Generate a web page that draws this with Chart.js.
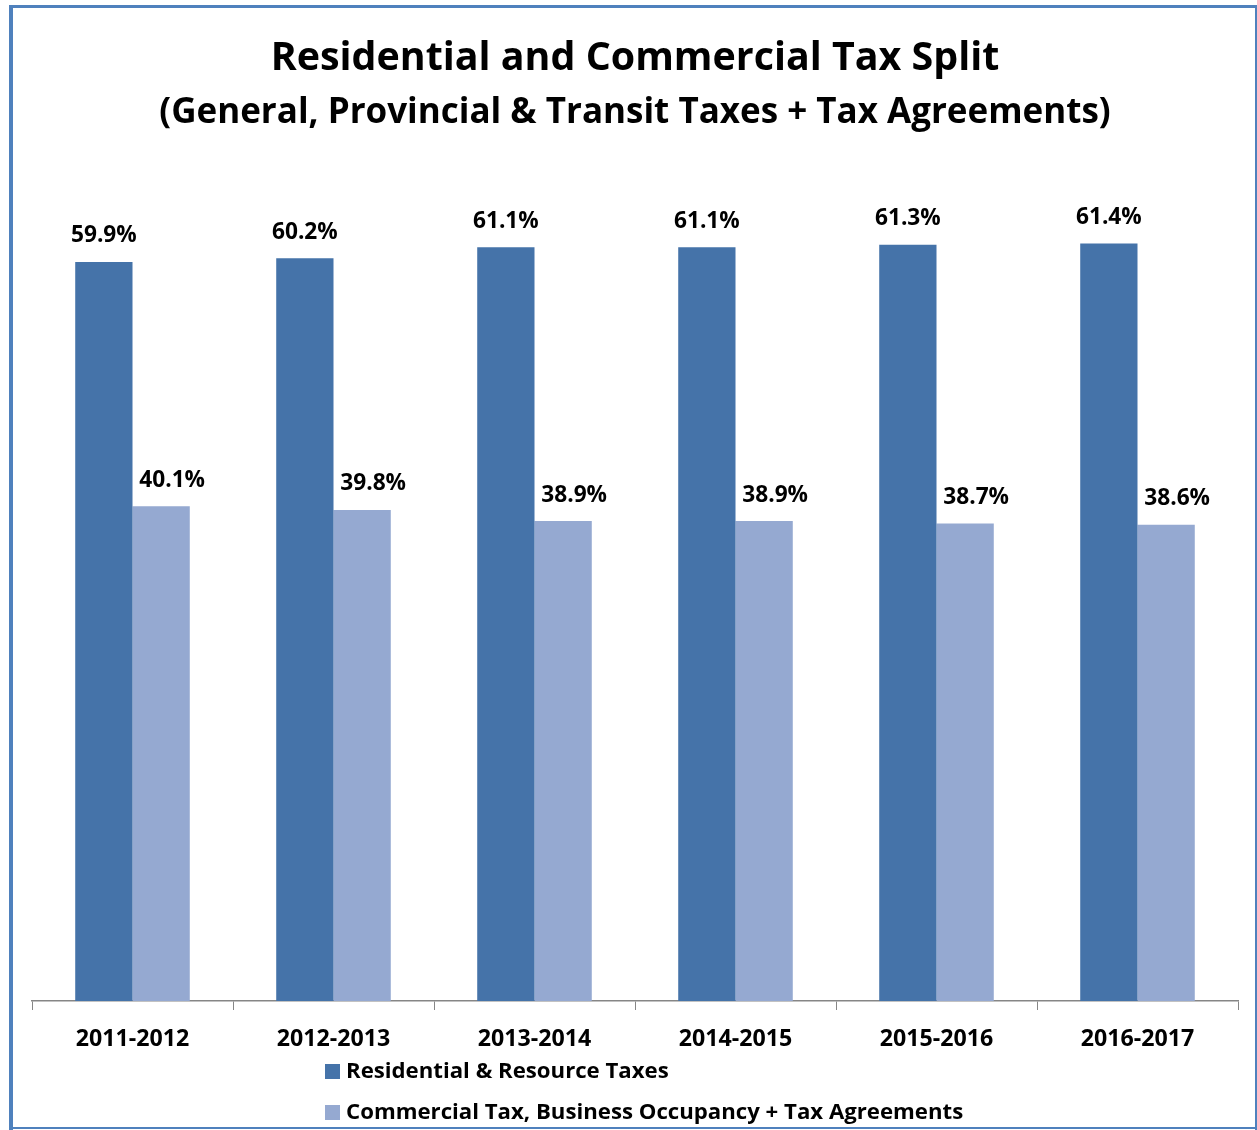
<!DOCTYPE html>
<html lang="en">
<head>
    <meta charset="UTF-8">
    <title>Residential and Commercial Tax Split</title>
    <script src="https://cdn.jsdelivr.net/npm/chart.js@4.4.0/dist/chart.umd.min.js"></script>
    <style>
        body {
            margin: 0;
            padding: 0;
            background: #ffffff;
        }
        .chart-box {
            position: relative;
            width: 1257px;
            height: 1130px;
        }
    </style>
</head>
<body>

    <div class="chart-box">
        <canvas id="taxChart"></canvas>
    </div>

    <script>
        // Tax split by fiscal year (percent of total levy)
        const years = ['2011-2012', '2012-2013', '2013-2014', '2014-2015', '2015-2016', '2016-2017'];
        const residential = [59.9, 60.2, 61.1, 61.1, 61.3, 61.4];
        const commercial = [40.1, 39.8, 38.9, 38.9, 38.7, 38.6];
        const seriesNames = ['Residential & Resource Taxes', 'Commercial Tax, Business Occupancy + Tax Agreements'];

        const darkBlue = '#4573A9';
        const lightBlue = '#95A9D1';
        const frameBlue = '#4F81BD';
        const fontFamily = "'Open Sans', sans-serif";

        // Blue frame around the whole chart
        const framePlugin = {
            id: 'frame',
            beforeDraw(chart) {
                const ctx = chart.ctx;
                ctx.save();
                ctx.fillStyle = frameBlue;
                ctx.fillRect(9, 5, 1248, 3);     // top
                ctx.fillRect(9, 5, 4, 1125);     // left
                ctx.fillRect(1255, 5, 2, 1125);  // right
                ctx.fillRect(9, 1127, 1248, 2);  // bottom
                ctx.restore();
            }
        };

        // Percentage above each bar
        const valueLabels = {
            id: 'valueLabels',
            afterDatasetsDraw(chart) {
                const ctx = chart.ctx;
                ctx.save();
                ctx.font = 'bold 22.7px ' + fontFamily;
                ctx.fillStyle = '#000000';
                ctx.textAlign = 'center';
                ctx.textBaseline = 'middle';
                chart.data.datasets.forEach((ds, i) => {
                    const meta = chart.getDatasetMeta(i);
                    meta.data.forEach((bar, j) => {
                        ctx.fillText(ds.data[j].toFixed(1) + '%', bar.x + ds.labelShift, bar.y - 26);
                    });
                });
                ctx.restore();
            }
        };

        // Stacked legend under the axis
        const stackedLegend = {
            id: 'stackedLegend',
            afterDraw(chart) {
                const ctx = chart.ctx;
                ctx.save();
                ctx.font = 'bold 22.2px ' + fontFamily;
                ctx.textBaseline = 'middle';
                chart.data.datasets.forEach((ds, i) => {
                    const y = 1072 + i * 41;
                    ctx.fillStyle = ds.backgroundColor;
                    ctx.fillRect(325, y - 8, 15, 15);
                    ctx.fillStyle = '#000000';
                    ctx.fillText(ds.label, 346, y);
                });
                ctx.restore();
            }
        };

        const ctx = document.getElementById('taxChart').getContext('2d');

        const taxChart = new Chart(ctx, {
            type: 'bar',
            data: {
                labels: years,
                datasets: [
                    { label: seriesNames[0], data: residential, backgroundColor: darkBlue, labelShift: 0 },
                    { label: seriesNames[1], data: commercial, backgroundColor: lightBlue, labelShift: 11 }
                ]
            },
            options: {
                responsive: true,
                maintainAspectRatio: false,
                animation: false,
                layout: {
                    padding: { top: 0, left: 32, right: 19, bottom: 0 }
                },
                datasets: {
                    bar: {
                        categoryPercentage: 0.57,
                        barPercentage: 1.0
                    }
                },
                plugins: {
                    legend: { display: false },
                    tooltip: { enabled: false },
                    title: {
                        display: true,
                        text: 'Residential and Commercial Tax Split',
                        color: '#000000',
                        font: { family: fontFamily, size: 39.4, weight: 'bold', lineHeight: 1.2 },
                        padding: { top: 35.4, bottom: 0 }
                    },
                    subtitle: {
                        display: true,
                        text: '(General, Provincial & Transit Taxes + Tax Agreements)',
                        color: '#000000',
                        font: { family: fontFamily, size: 35, weight: 'bold', lineHeight: 1.2 },
                        padding: { top: 9.3, bottom: 3.4 }
                    }
                },
                scales: {
                    x: {
                        afterFit(scale) {
                            scale.height = 129;
                        },
                        grid: {
                            display: true,
                            drawOnChartArea: false,
                            drawTicks: true,
                            tickLength: 9,
                            color: '#868686',
                            offset: true
                        },
                        border: { display: true, color: '#868686', width: 1.5 },
                        ticks: {
                            color: '#000000',
                            padding: 15,
                            font: { family: fontFamily, size: 23.2, weight: 'bold' }
                        }
                    },
                    y: {
                        display: false,
                        min: 0,
                        max: 70
                    }
                }
            },
            plugins: [framePlugin, valueLabels, stackedLegend]
        });
    </script>

</body>
</html>
